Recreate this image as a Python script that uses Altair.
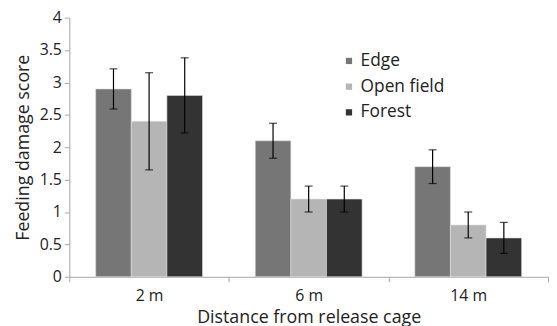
import altair as alt
import pandas as pd

distances = ["2 m", "6 m", "14 m"]
habitats = ["Edge", "Open field", "Forest"]
edge_vals = [2.9, 2.1, 1.7]
open_vals = [2.4, 1.2, 0.8]
forest_vals = [2.8, 1.2, 0.6]
edge_err = [0.31, 0.27, 0.26]
open_err = [0.75, 0.2, 0.2]
forest_err = [0.58, 0.2, 0.24]
colors = ["#767676", "#b5b5b5", "#333333"]
y_ticks = [0, 0.5, 1, 1.5, 2, 2.5, 3, 3.5, 4]

rows = []
for h, vals, errs in zip(habitats, [edge_vals, open_vals, forest_vals], [edge_err, open_err, forest_err]):
    for d, v, e in zip(distances, vals, errs):
        rows.append({"distance": d, "habitat": h, "score": v, "err": e})
df = pd.DataFrame(rows)

FONT = "Open Sans"

x = alt.X("distance:N", sort=distances, title="Distance from release cage",
          scale=alt.Scale(paddingInner=0, paddingOuter=0),
          axis=alt.Axis(labelAngle=0, tickBand="extent", tickSize=5,
                        labelFontSize=16, titleFontSize=18, labelPadding=6,
                        titlePadding=5, domainColor="#a6a6a6", tickColor="#a6a6a6",
                        labelColor="#222222", titleColor="#222222",
                        labelFont=FONT, titleFont=FONT, titleFontWeight="normal"))
xo = alt.XOffset("habitat:N", sort=habitats,
                 scale=alt.Scale(paddingInner=0, paddingOuter=0.74))

y_axis = alt.Axis(values=y_ticks, format="~g", grid=False, labelOverlap=False,
                  tickSize=5, labelFontSize=16, titleFontSize=18,
                  labelPadding=3, titlePadding=7,
                  domainColor="#a6a6a6", tickColor="#a6a6a6",
                  labelColor="#222222", titleColor="#222222",
                  labelFont=FONT, titleFont=FONT, titleFontWeight="normal")
y_scale = alt.Scale(domain=[0, 4])

bars = alt.Chart(df).mark_bar(stroke="#e0e0e0", strokeWidth=0.6).encode(
    x=x, xOffset=xo,
    y=alt.Y("score:Q", title="Feeding damage score", scale=y_scale, axis=y_axis),
    color=alt.Color("habitat:N", sort=habitats,
                    scale=alt.Scale(domain=habitats, range=colors),
                    legend=alt.Legend(title=None, orient="none", legendX=274, legendY=35,
                                      symbolType="square", symbolSize=40,
                                      symbolStrokeWidth=0, labelFontSize=17.5,
                                      labelFont=FONT, labelColor="#222222",
                                      rowPadding=7, labelOffset=3)),
)

errs = alt.Chart(df).transform_calculate(
    lo="datum.score - datum.err", hi="datum.score + datum.err"
).mark_errorbar(ticks=alt.MarkConfig(size=8, color="black"), rule=alt.MarkConfig(color="black"), thickness=1.2, color="black").encode(
    x=x, xOffset=xo,
    y=alt.Y("lo:Q", title="Feeding damage score", scale=y_scale, axis=y_axis), y2="hi:Q",
)

chart = alt.layer(bars, errs).properties(
    width=484, height=262,
    padding={"left": 6, "top": 0, "right": 0, "bottom": 0},
).configure_view(stroke=None)
chart.save("out.html", embed_options={"renderer": "svg", "actions": False})
